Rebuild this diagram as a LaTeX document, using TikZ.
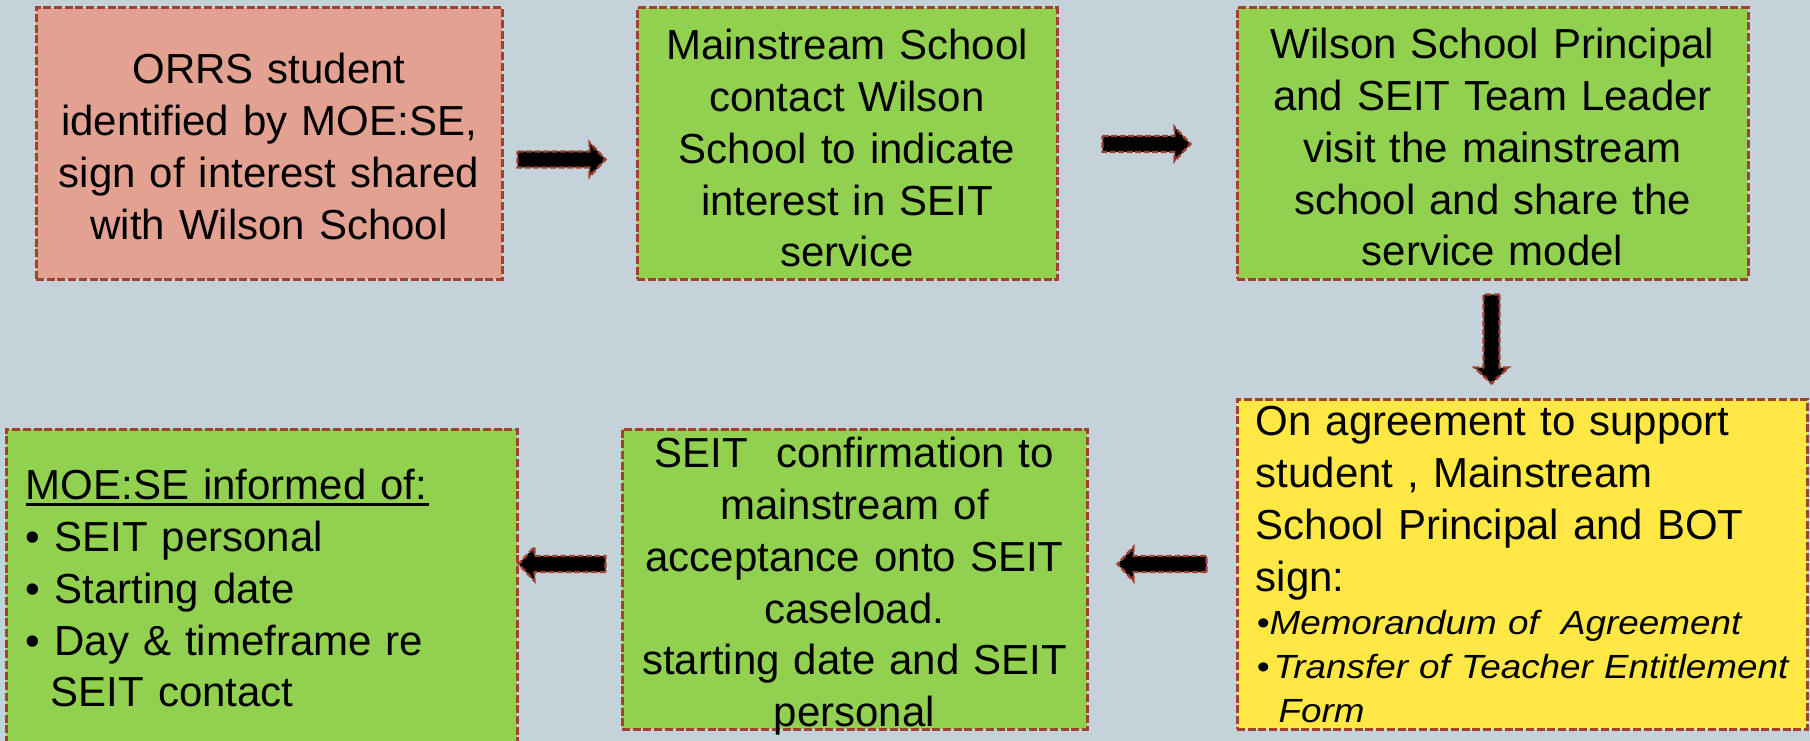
\documentclass[tikz,border=0pt]{standalone}
\usepackage{fontspec}
\setmainfont{Liberation Sans}
\newfontfamily\itstretch{Liberation Sans}[FakeStretch=1.10]
\usetikzlibrary{calc}
\definecolor{bgc}{RGB}{198,210,217}
\definecolor{pinkc}{RGB}{227,161,145}
\definecolor{greenc}{RGB}{146,208,80}
\definecolor{yellowc}{RGB}{255,232,68}
\definecolor{edgec}{RGB}{160,66,50}
\tikzset{
  box/.style={draw=edgec, line width=3pt, dash pattern=on 8pt off 2.7pt, inner sep=0pt},
  txt/.style={inner sep=0pt, font=\fontsize{42}{51.8}\selectfont, text=black},
  ittxt/.style={inner sep=0pt, font=\itstretch\itshape\fontsize{33.5}{44}\selectfont, text=black},
  arr/.style={fill=black, draw=edgec, line width=2.4pt, dash pattern=on 6pt off 2.5pt, line join=miter},
}
\newcommand\blockarr[2]{%
  \coordinate (ba-s) at (#1);
  \coordinate (ba-e) at (#2);
  \coordinate (ba-h) at ($(ba-e)!16pt!(ba-s)$);
  \draw[arr] ($(ba-s)!8pt!90:(ba-e)$) -- ($(ba-h)!8pt!90:(ba-e)$)
    -- ($(ba-h)!17pt!90:(ba-e)$) -- (ba-e) -- ($(ba-h)!17pt!-90:(ba-e)$)
    -- ($(ba-h)!8pt!-90:(ba-e)$) -- ($(ba-s)!8pt!-90:(ba-e)$) -- cycle;}
\begin{document}
\begin{tikzpicture}[x=1pt,y=-1pt]
\useasboundingbox (0,0) rectangle (1810,741);
\fill[bgc] (0,0) rectangle (1810,741);
\clip (0,0) rectangle (1810,741);

% boxes
\node[box, fill=pinkc,   minimum width=466, minimum height=271] (b1) at (269,143.5) {};
\node[box, fill=greenc,  minimum width=420, minimum height=271] (b2) at (847,143.5) {};
\node[box, fill=greenc,  minimum width=511, minimum height=271] (b3) at (1492.5,143.5) {};
\node[box, fill=yellowc, minimum width=570, minimum height=330] (b4) at (1522,564) {};
\node[box, fill=greenc,  minimum width=465, minimum height=300] (b5) at (854.5,579) {};
\node[box, fill=greenc,  minimum width=511, minimum height=351] (b6) at (261.5,604.5) {};

% texts
\node[txt, anchor=north, text width=466, align=center] (t1) at ($(b1.north)+(0,39)$)
  {\rule{0pt}{38pt}ORRS student\\identified by MOE:SE,\\sign of interest shared\\with Wilson School};
\node[txt, anchor=north, text width=420, align=center] (t2) at ($(b2.north)+(0,15)$)
  {\rule{0pt}{38pt}Mainstream School\\contact Wilson\\School to indicate\\interest in SEIT\\service};
\node[txt, anchor=north, text width=511, align=center] (t3) at ($(b3.north)+(0,14)$)
  {\rule{0pt}{38pt}Wilson School Principal\\and SEIT Team Leader\\visit the mainstream\\school and share the\\service model};
\node[txt, anchor=north, text width=465, align=center] (t5) at ($(b5.north)+(0,2)$)
  {\rule{0pt}{38pt}SEIT\ \ confirmation to\\mainstream of\\acceptance onto SEIT\\caseload.\\starting date and SEIT\\personal};
\node[txt, anchor=north west, text width=480, align=left] (t6) at ($(b6.north west)+(21,34)$)
  {\rule{0pt}{38pt}\rlap{\rule[-6.5pt]{403pt}{3pt}}MOE:SE informed of:\\
   \textbullet{} SEIT personal\\
   \textbullet{} Starting date\\
   \textbullet{} Day \& timeframe re\\
   \hspace*{25pt}SEIT contact};
\node[txt, anchor=north west, text width=540, align=left] (t4a) at ($(b4.north west)+(20,0)$)
  {\rule{0pt}{38pt}On agreement to support\\student , Mainstream\\School Principal and BOT\\sign:};
\node[ittxt, anchor=north west, text width=545, align=left] (t4b) at ($(b4.north west)+(21,207)$)
  {\rule{0pt}{30pt}\textbullet Memorandum of\ \ Agreement\\
   \textbullet\hspace*{4pt}Transfer of Teacher Entitlement\\
   \hspace*{22pt}Form};

% connectors (block arrows)
\blockarr{$(b1.east)+(14,16)$}{$(b2.west)+(-30,16)$}
\blockarr{$(b2.east)+(44,0.5)$}{$(b3.west)+(-45,0.5)$}
\blockarr{$(b3.south)+(-1,14)$}{$(b3.south |- b4.north)+(-1,-14)$}
\blockarr{$(b4.west)+(-29,0)$}{$(b5.east |- b4.west)+(29,0)$}
\blockarr{$(b5.west |- b4.west)+(-15,0)$}{$(b6.east |- b4.west)$}
\end{tikzpicture}
\end{document}
